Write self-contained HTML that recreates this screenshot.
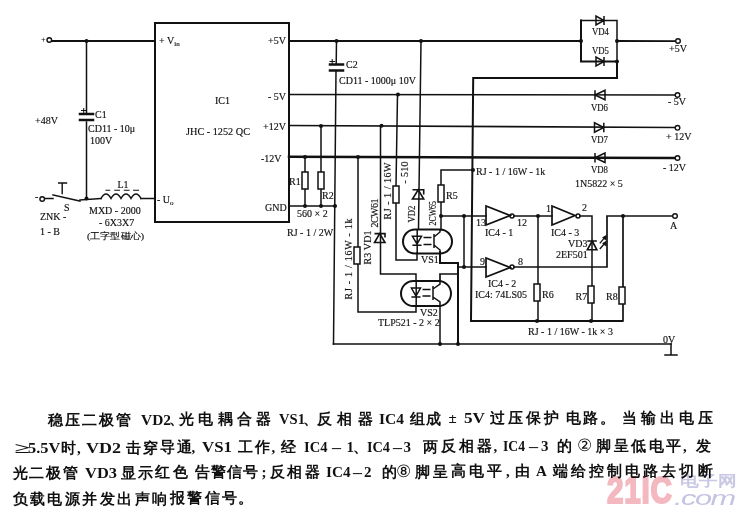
<!DOCTYPE html>
<html><head><meta charset="utf-8">
<style>
html,body{margin:0;padding:0;background:#fff;width:748px;height:516px;overflow:hidden;position:relative}
#d{position:absolute;left:0;top:0}
.t{font-family:"Liberation Serif",serif;font-size:10px;fill:#111;stroke:#111;stroke-width:0.15px}
.c,.l{position:absolute;font-family:"Liberation Serif",serif;font-size:15px;line-height:16px;color:#111;white-space:nowrap}
.c{font-weight:700}
.l{font-weight:700}
.ci{font-size:17px;font-weight:400;line-height:18px}
.ge{transform:scaleX(1.9);transform-origin:0 0}
.wm{position:absolute;mix-blend-mode:multiply;font-family:"Liberation Sans",sans-serif;white-space:nowrap;line-height:1}
</style></head><body>
<svg id="d" width="748" height="516" viewBox="0 0 748 516">
<g stroke="#111" stroke-width="1.5" fill="none" stroke-linecap="square">
<!-- IC1 box -->
<rect x="155" y="23" width="134" height="199" stroke-width="2"/>
<!-- input lines -->
<path d="M52 41 H155" stroke-width="2"/>
<path d="M86.5 41 V113 M86.5 122 V198.5"/>
<path d="M45 198.5 H53 M80 200 L101 198.5 M141 198.5 H155"/>
<path d="M53 195 L80 201"/>
<path d="M62.2 183 V193.5 M58.7 183 H66.5" stroke-width="1.4"/>
<path d="M106 190.3 H109.6 M114.8 190.3 H119.5 M124.3 190.3 H129 M133.6 190.3 H138.5" stroke-width="1.1"/>
<!-- inductor -->
<path d="M101 198.5 q5 -9 10 0 q5 -9 10 0 q5 -9 10 0 q5 -9 10 0"/>
<!-- C1 -->
<path d="M80 114 H93 M80 120 H93" stroke-width="2.5"/>
<!-- +5V line -->
<path d="M289 41 H581" stroke-width="2"/>
<path d="M617 41 L676 41.2" stroke-width="1.8"/>
<!-- block VD4/VD5 -->
<path d="M581 20.5 V61.5 H617 V78 H473.2 L471 321 H622" stroke-width="2"/>
<path d="M581 20.5 H617 V61.5"/>
<!-- -5V, +12V, -12V -->
<path d="M289 94.5 L675.5 95"/>
<path d="M289 125.5 L675 127.5" stroke-width="1.7"/>
<path d="M289 156.7 L675 158" stroke-width="2.5"/>
<!-- C2 vertical -->
<path d="M336.5 41 L336.2 64 M336 71 L333.5 344"/>
<path d="M330 64.5 H343 M330 70.5 H343" stroke-width="2.5"/>
<path d="M330 61.5 H334.5 M332.2 59.5 V63.5 M81.5 110.5 H86 M83.7 108.5 V112.5" stroke-width="1"/>
<!-- R1 R2 -->
<path d="M305 157 V206 M321 126 V206"/>
<path d="M289 206 H335.5" stroke-width="1.7"/>
<!-- x=358 -->
<path d="M358 157 V312 H416 V306"/>
<!-- x=379 -->
<path d="M380.5 126 V274 H416 V281"/>
<!-- x=396 -->
<path d="M397.5 94.5 L396 186 M396 203 V260 H417 V253"/>
<!-- x=419 -->
<path d="M421 41 L418.5 229"/>
<!-- R5 -->
<path d="M441 216 V170 H473"/>
<path d="M441 216 V230"/>
<path d="M441 216 H486"/>
<path d="M464 216 V267 M458 267 H486"/>
<!-- VS1 emitter to VS2 collector -->
<path d="M440 252 V263 H458 V344" stroke-width="2"/>
<path d="M440 281 V274 H458" stroke-width="1.7"/>
<path d="M440 306 V344"/>
<path d="M333.5 344 H671" stroke-width="1.7"/>
<!-- ground -->
<path d="M671 344 V355 M665 355 H677"/>
<!-- IC4 -->
<path d="M514 216 H552 M538 216 V321"/>
<path d="M580 216 H592 V321"/>
<path d="M514 267 H607 V216 H673 M623 216 V321" stroke-width="1.7"/>
</g>
<!-- junction dots -->
<g fill="#111">
<circle cx="86.5" cy="41" r="2"/><circle cx="86.5" cy="198.5" r="2"/>
<circle cx="336.5" cy="41" r="2"/><circle cx="421" cy="41" r="2"/>
<circle cx="398" cy="94.5" r="2"/>
<circle cx="321" cy="126" r="2"/><circle cx="381.5" cy="125.8" r="2"/>
<circle cx="305" cy="157" r="2"/><circle cx="358" cy="157" r="2"/>
<circle cx="305" cy="206" r="2"/><circle cx="321" cy="206" r="2"/><circle cx="335" cy="206" r="2"/>
<circle cx="581" cy="41" r="2"/><circle cx="617" cy="41" r="2"/><circle cx="617" cy="61.5" r="2"/>
<circle cx="441" cy="216" r="2"/><circle cx="464" cy="216" r="2"/><circle cx="464" cy="267" r="2"/>
<circle cx="538" cy="216" r="2"/><circle cx="623" cy="216" r="2"/>
<circle cx="537" cy="321" r="2"/><circle cx="591" cy="321" r="2"/>
<circle cx="440" cy="344" r="2"/><circle cx="458" cy="344" r="2"/><circle cx="475" cy="216" r="0"/>
<circle cx="473" cy="170" r="2"/>
</g>
<!-- terminals -->
<g stroke="#111" stroke-width="1.4" fill="#fff">
<circle cx="49.3" cy="40" r="2.3"/>
<circle cx="42.2" cy="199" r="2.3"/>
<circle cx="678" cy="41" r="2.3"/><circle cx="677.5" cy="95" r="2.3"/>
<circle cx="677.5" cy="127.8" r="2.3"/><circle cx="677.5" cy="158" r="2.3"/>
<circle cx="675" cy="216" r="2.3"/>
</g>
<!-- resistors -->
<g stroke="#111" stroke-width="1.5" fill="#fff">
<rect x="302" y="172" width="6" height="17"/>
<rect x="318" y="172" width="6" height="17"/>
<rect x="354" y="247" width="6" height="17"/>
<rect x="393" y="186" width="6" height="17"/>
<rect x="438" y="185" width="6" height="17"/>
<rect x="534" y="284" width="6" height="17"/>
<rect x="588" y="286" width="6" height="17"/>
<rect x="619" y="287" width="6" height="17"/>
</g>
<!-- diodes -->
<g fill="none" stroke="#111" stroke-width="1.5">
<path d="M596 16 V25 L604 20.5 Z M604 16 V25"/>
<path d="M596 57 V66 L604 61.5 Z M604 57 V66"/>
<path d="M605 90.3 V99.7 L595 95 Z M595 90.3 V99.7"/>
<path d="M594.5 122.8 V132.2 L603.8 127.5 Z M603.8 122.8 V132.2"/>
<path d="M605 153 V162.5 L595 157.7 Z M595 153 V162.5"/>
<!-- VD1 pointing up -->
<path d="M374.5 242.5 H385 L379.7 233.6 Z M374.5 233.6 H385 V237.5" stroke-width="1.6"/>
<!-- VD2 pointing up -->
<path d="M412.5 199 H423.7 L418.2 189.8 Z M412.5 189.8 H423.7 V194.5" stroke-width="1.6"/>
<!-- VD3 -->
<path d="M587.3 249.8 H596.9 L592.2 241 Z M587.3 241 H596.9" stroke-width="1.6"/>
<path d="M599.8 243.3 L605 237.2 M599.8 249 L605 243" stroke-width="1.3"/>
<path d="M606.2 235.5 L605.8 240 L602.6 237.6 Z M606.2 241.3 L605.8 245.8 L602.6 243.4 Z" fill="#111" stroke-width="0.8"/>
<!-- inverters -->
<path d="M486 206 V225 L510 215.5 Z" stroke-width="1.7"/>
<circle cx="512" cy="216" r="2"/>
<path d="M552 206 V225 L575 215.5 Z" stroke-width="1.7"/>
<circle cx="578" cy="216" r="2"/>
<path d="M486 258 V277 L510 267.5 Z" stroke-width="1.7"/>
<circle cx="512" cy="267" r="2"/>
<!-- VS1 -->
<rect x="403" y="229.5" width="49" height="24" rx="12" stroke-width="2"/>
<path d="M412.4 236.3 H421.5 L417 244 Z M412.4 245.3 H421.5 M417.2 229.5 V253.5"/>
<path d="M423.5 237.5 H431.5 M423.5 244.5 H431.5" stroke-width="1.7"/>
<path d="M434 234 V248 M434 237 L440 232 V229 M434 245 L440 250 V253"/>
<!-- VS2 -->
<rect x="401" y="281" width="50" height="25" rx="12.5" stroke-width="2"/>
<path d="M411.4 288 H420.5 L416 296 Z M411.4 297 H420.5 M416.2 281 V306"/>
<path d="M422.5 289.5 H430.5 M422.5 296 H430.5" stroke-width="1.7"/>
<path d="M433 286 V300 M433 289 L440 284 V281 M433 297 L440 302 V306"/>
</g>
<!-- labels -->
<g class="t">
<text x="41" y="42" font-size="8">+</text>
<text x="35" y="200">-</text>
<text x="35" y="124">+48V</text>
<text x="95" y="118">C1</text>
<text x="88" y="132">CD11 - 10μ</text>
<text x="90" y="144">100V</text>
<text x="64" y="211">S</text>
<text x="40" y="220">ZNK -</text>
<text x="40" y="235">1 - B</text>
<text x="117.5" y="188">L1</text>
<text x="89" y="214">MXD - 2000</text>
<text x="99" y="226">- 6X3X7</text>
<text x="87" y="238.5" font-size="9" textLength="57" lengthAdjust="spacingAndGlyphs">(工字型磁心)</text>
<text x="159" y="44">+ V<tspan font-size="7" dy="2">in</tspan></text>
<text x="157" y="203">- U<tspan font-size="7" dy="2">o</tspan></text>
<text x="215" y="104">IC1</text>
<text x="186" y="134.5" textLength="64" lengthAdjust="spacingAndGlyphs">JHC - 1252 QC</text>
<text x="268" y="44">+5V</text>
<text x="268" y="99.5">- 5V</text>
<text x="263" y="130">+12V</text>
<text x="261" y="162">-12V</text>
<text x="265" y="211">GND</text>
<text x="289" y="185">R1</text>
<text x="322" y="199">R2</text>
<text x="297" y="217">560 × 2</text>
<text x="287" y="236">RJ - 1 / 2W</text>
<text x="346" y="68">C2</text>
<text x="339" y="84">CD11 - 1000μ 10V</text>
<text x="592" y="35" textLength="17" lengthAdjust="spacingAndGlyphs">VD4</text>
<text x="592" y="54" textLength="17" lengthAdjust="spacingAndGlyphs">VD5</text>
<text x="591" y="111" textLength="17" lengthAdjust="spacingAndGlyphs">VD6</text>
<text x="591" y="143" textLength="17" lengthAdjust="spacingAndGlyphs">VD7</text>
<text x="591" y="173" textLength="17" lengthAdjust="spacingAndGlyphs">VD8</text>
<text x="669" y="52">+5V</text>
<text x="668" y="105">- 5V</text>
<text x="666" y="140">+ 12V</text>
<text x="663" y="170.5">- 12V</text>
<text x="575" y="187">1N5822 × 5</text>
<text x="476" y="175">RJ - 1 / 16W - 1k</text>
<text x="446" y="199">R5</text>
<text x="476" y="226">13</text>
<text x="517" y="226">12</text>
<text x="485" y="236">IC4 - 1</text>
<text x="546" y="212">1</text>
<text x="582" y="211">2</text>
<text x="551" y="236">IC4 - 3</text>
<text x="568" y="247">VD3</text>
<text x="556" y="258">2EF501</text>
<text x="670" y="229">A</text>
<text x="480" y="265">9</text>
<text x="518" y="265">8</text>
<text x="488" y="287">IC4 - 2</text>
<text x="475" y="298">IC4: 74LS05</text>
<text x="542" y="298">R6</text>
<text x="575.5" y="299.5">R7</text>
<text x="606" y="299.5">R8</text>
<text x="528" y="335">RJ - 1 / 16W - 1k × 3</text>
<text x="663" y="343">0V</text>
<text x="421" y="263">VS1</text>
<text x="420" y="315.5">VS2</text>
<text x="378" y="326">TLP521 - 2 × 2</text>
<text transform="translate(352 299.5) rotate(-90)" textLength="81" lengthAdjust="spacing">RJ - 1 / 16W - 1k</text>
<text transform="translate(370.5 264.5) rotate(-90)" textLength="34" lengthAdjust="spacing">R3 VD1</text>
<text transform="translate(378 227.5) rotate(-90)" textLength="29" lengthAdjust="spacing">2CW61</text>
<text transform="translate(391 219.5) rotate(-90)" textLength="57" lengthAdjust="spacing">RJ - 1 / 16W</text>
<text transform="translate(408 183.5) rotate(-90)" textLength="22" lengthAdjust="spacing">- 510</text>
<text transform="translate(414.5 222.5) rotate(-90)" textLength="17" lengthAdjust="spacingAndGlyphs">VD2</text>
<text transform="translate(435.5 225.5) rotate(-90)" textLength="24.5" lengthAdjust="spacingAndGlyphs">2CW65</text>
</g>
</svg>
<span class="c" style="left:47.50px;top:411.88px">稳</span>
<span class="c" style="left:64.50px;top:411.82px">压</span>
<span class="c" style="left:81.50px;top:411.76px">二</span>
<span class="c" style="left:98.50px;top:411.69px">极</span>
<span class="c" style="left:115.50px;top:411.63px">管</span>
<span class="l" style="left:140.50px;top:411.54px;transform:scaleX(1.028);transform-origin:0 0">VD2</span>
<span class="c" style="left:168.50px;top:411.44px">、</span>
<span class="c" style="left:178.75px;top:411.41px">光</span>
<span class="c" style="left:198.12px;top:411.34px">电</span>
<span class="c" style="left:217.50px;top:411.27px">耦</span>
<span class="c" style="left:236.88px;top:411.20px">合</span>
<span class="c" style="left:256.25px;top:411.13px">器</span>
<span class="l" style="left:279.00px;top:411.05px;transform:scaleX(0.974);transform-origin:0 0">VS1</span>
<span class="c" style="left:303.00px;top:410.96px">、</span>
<span class="c" style="left:317.00px;top:410.91px">反</span>
<span class="c" style="left:337.25px;top:410.84px">相</span>
<span class="c" style="left:357.50px;top:410.77px">器</span>
<span class="l" style="left:378.50px;top:410.69px;transform:scaleX(1.034);transform-origin:0 0">IC4</span>
<span class="c" style="left:410.00px;top:410.58px">组</span>
<span class="c" style="left:425.50px;top:410.53px">成</span>
<span class="l" style="left:448.50px;top:410.44px">±</span>
<span class="l" style="left:463.50px;top:410.39px;transform:scaleX(1.145);transform-origin:0 0">5V</span>
<span class="c" style="left:490.00px;top:410.30px">过</span>
<span class="c" style="left:508.00px;top:410.23px">压</span>
<span class="c" style="left:526.00px;top:410.17px">保</span>
<span class="c" style="left:544.00px;top:410.10px">护</span>
<span class="c" style="left:566.00px;top:410.02px">电</span>
<span class="c" style="left:583.00px;top:409.96px">路</span>
<span class="c" style="left:599.50px;top:409.91px">。</span>
<span class="c" style="left:622.00px;top:409.82px">当</span>
<span class="c" style="left:640.88px;top:409.76px">输</span>
<span class="c" style="left:659.75px;top:409.69px">出</span>
<span class="c" style="left:678.62px;top:409.62px">电</span>
<span class="c" style="left:697.50px;top:409.56px">压</span>
<span class="l ge" style="left:13.75px;top:440.00px">≥</span>
<span class="l" style="left:28.25px;top:439.94px;transform:scaleX(1.090);transform-origin:0 0">5.5V</span>
<span class="c" style="left:61.00px;top:439.83px">时</span>
<span class="l" style="left:77.00px;top:439.77px">,</span>
<span class="l" style="left:85.50px;top:439.74px;transform:scaleX(1.200);transform-origin:0 0">VD2</span>
<span class="c" style="left:126.00px;top:439.60px">击</span>
<span class="c" style="left:142.83px;top:439.54px">穿</span>
<span class="c" style="left:159.67px;top:439.48px">导</span>
<span class="c" style="left:176.50px;top:439.42px">通</span>
<span class="l" style="left:191.50px;top:439.36px">,</span>
<span class="l" style="left:201.50px;top:439.32px;transform:scaleX(1.124);transform-origin:0 0">VS1</span>
<span class="c" style="left:238.00px;top:439.20px">工</span>
<span class="c" style="left:254.50px;top:439.14px">作</span>
<span class="l" style="left:271.50px;top:439.07px">,</span>
<span class="c" style="left:281.00px;top:439.04px">经</span>
<span class="l" style="left:304.00px;top:438.96px;transform:scaleX(0.972);transform-origin:0 0">IC4</span>
<span class="l" style="left:332.00px;top:438.86px;transform:scaleX(1.2);transform-origin:0 0">&#8211;</span>
<span class="l" style="left:346.50px;top:438.81px">1</span>
<span class="c" style="left:353.00px;top:438.79px">、</span>
<span class="l" style="left:366.50px;top:438.74px;transform:scaleX(0.952);transform-origin:0 0">IC4</span>
<span class="l" style="left:393.00px;top:438.64px;transform:scaleX(1.2);transform-origin:0 0">&#8211;</span>
<span class="l" style="left:403.50px;top:438.60px">3</span>
<span class="c" style="left:423.00px;top:438.54px">两</span>
<span class="c" style="left:441.00px;top:438.47px">反</span>
<span class="c" style="left:459.00px;top:438.41px">相</span>
<span class="c" style="left:477.00px;top:438.34px">器</span>
<span class="l" style="left:493.50px;top:438.28px">,</span>
<span class="l" style="left:502.50px;top:438.25px;transform:scaleX(0.910);transform-origin:0 0">IC4</span>
<span class="l" style="left:529.00px;top:438.16px;transform:scaleX(1.2);transform-origin:0 0">&#8211;</span>
<span class="l" style="left:541.00px;top:438.11px">3</span>
<span class="c" style="left:556.50px;top:438.06px">的</span>
<span class="c ci" style="left:576.50px;top:436.99px">②</span>
<span class="c" style="left:596.00px;top:437.92px">脚</span>
<span class="c" style="left:613.50px;top:437.86px">呈</span>
<span class="c" style="left:631.00px;top:437.79px">低</span>
<span class="c" style="left:648.50px;top:437.73px">电</span>
<span class="c" style="left:666.00px;top:437.67px">平</span>
<span class="l" style="left:683.00px;top:437.61px">,</span>
<span class="c" style="left:696.00px;top:437.56px">发</span>
<span class="c" style="left:12.50px;top:465.00px">光</span>
<span class="c" style="left:29.17px;top:464.94px">二</span>
<span class="c" style="left:45.83px;top:464.88px">极</span>
<span class="c" style="left:62.50px;top:464.82px">管</span>
<span class="l" style="left:84.50px;top:464.74px;transform:scaleX(1.097);transform-origin:0 0">VD3</span>
<span class="c" style="left:121.00px;top:464.61px">显</span>
<span class="c" style="left:138.17px;top:464.55px">示</span>
<span class="c" style="left:155.33px;top:464.49px">红</span>
<span class="c" style="left:172.50px;top:464.43px">色</span>
<span class="c" style="left:194.50px;top:464.35px">告</span>
<span class="c" style="left:210.67px;top:464.29px">警</span>
<span class="c" style="left:226.83px;top:464.24px">信</span>
<span class="c" style="left:243.00px;top:464.18px">号</span>
<span class="l" style="left:261.50px;top:464.11px">;</span>
<span class="c" style="left:269.50px;top:464.08px">反</span>
<span class="c" style="left:287.00px;top:464.02px">相</span>
<span class="c" style="left:304.50px;top:463.96px">器</span>
<span class="l" style="left:325.50px;top:463.88px;transform:scaleX(1.014);transform-origin:0 0">IC4</span>
<span class="l" style="left:353.00px;top:463.79px;transform:scaleX(1.2);transform-origin:0 0">&#8211;</span>
<span class="l" style="left:364.00px;top:463.74px">2</span>
<span class="c" style="left:381.50px;top:463.68px">的</span>
<span class="c ci" style="left:396.00px;top:462.63px">⑧</span>
<span class="c" style="left:415.00px;top:463.56px">脚</span>
<span class="c" style="left:432.88px;top:463.50px">呈</span>
<span class="c" style="left:450.75px;top:463.44px">高</span>
<span class="c" style="left:468.62px;top:463.37px">电</span>
<span class="c" style="left:486.50px;top:463.31px">平</span>
<span class="l" style="left:506.00px;top:463.24px">,</span>
<span class="c" style="left:515.00px;top:463.21px">由</span>
<span class="l" style="left:536.00px;top:463.13px">A</span>
<span class="c" style="left:553.00px;top:463.07px">端</span>
<span class="c" style="left:571.06px;top:463.01px">给</span>
<span class="c" style="left:589.12px;top:462.94px">控</span>
<span class="c" style="left:607.19px;top:462.88px">制</span>
<span class="c" style="left:625.25px;top:462.81px">电</span>
<span class="c" style="left:643.31px;top:462.75px">路</span>
<span class="c" style="left:661.38px;top:462.68px">去</span>
<span class="c" style="left:679.44px;top:462.62px">切</span>
<span class="c" style="left:697.50px;top:462.56px">断</span>
<span class="c" style="left:12.50px;top:491.00px">负</span>
<span class="c" style="left:29.96px;top:490.94px">载</span>
<span class="c" style="left:47.42px;top:490.88px">电</span>
<span class="c" style="left:64.88px;top:490.81px">源</span>
<span class="c" style="left:82.33px;top:490.75px">并</span>
<span class="c" style="left:99.79px;top:490.69px">发</span>
<span class="c" style="left:117.25px;top:490.63px">出</span>
<span class="c" style="left:134.71px;top:490.57px">声</span>
<span class="c" style="left:152.17px;top:490.50px">响</span>
<span class="c" style="left:169.62px;top:490.44px">报</span>
<span class="c" style="left:187.08px;top:490.38px">警</span>
<span class="c" style="left:204.54px;top:490.32px">信</span>
<span class="c" style="left:222.00px;top:490.25px">号</span>
<span class="c" style="left:238.00px;top:490.20px">。</span>
<div class="wm" style="left:607px;top:472px;font-size:37px;font-weight:700;color:#f4b8c0;-webkit-text-stroke:2px #f4b8c0;transform:scaleX(0.80);transform-origin:0 0;letter-spacing:1px">21IC</div>
<div class="wm" style="left:680px;top:473px;font-size:15px;font-weight:700;color:#c8c8e4;transform:scaleX(1.25);transform-origin:0 0">电子网</div>
<div class="wm" style="left:674px;top:487.5px;font-size:20.5px;font-style:italic;color:#c4c4e2;transform:scaleX(1.5);transform-origin:0 0;letter-spacing:-1px">.com</div>
</body></html>
